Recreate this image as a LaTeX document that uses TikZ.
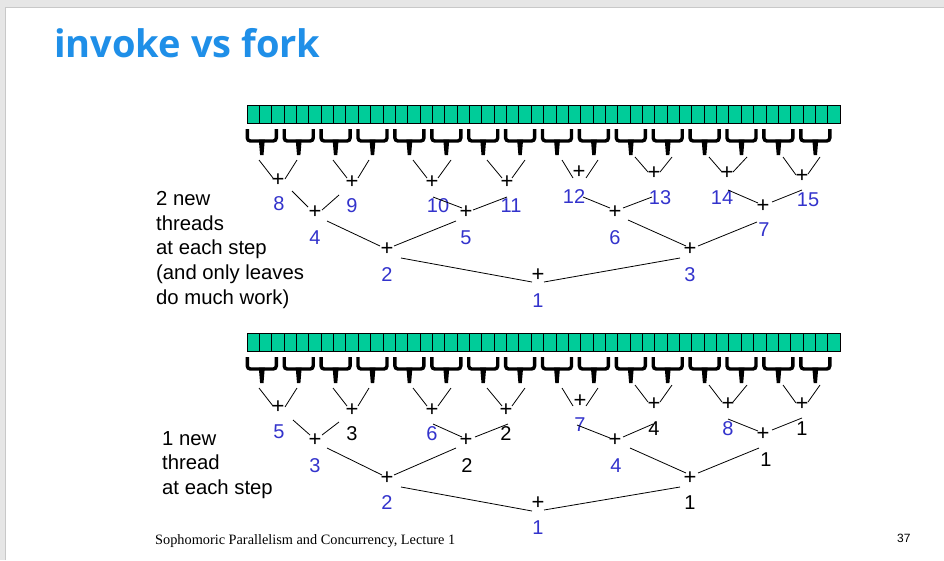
\documentclass[tikz,border=0pt]{standalone}
\usepackage{fontspec}
\setmainfont{Liberation Sans}
\newfontfamily\titlefont{Open Sans}
\newfontfamily\footfont{Liberation Serif}
\definecolor{titleblue}{RGB}{31,143,232}
\definecolor{lblblue}{RGB}{51,51,204}
\definecolor{cellgreen}{RGB}{0,204,153}
\definecolor{framegray}{RGB}{230,230,230}
\definecolor{edgegray}{RGB}{200,200,200}
\tikzset{
  plus/.style={inner sep=0pt, font=\fontsize{22}{22}\selectfont},
  lbl/.style={inner sep=0pt, text=lblblue, font=\fontsize{20}{20}\selectfont},
  blk/.style={inner sep=0pt, text=black, font=\fontsize{20}{20}\selectfont},
  conn/.style={draw=black, line width=0.8pt},
  bracearm/.style={draw=black, line width=3.4pt, rounded corners=3pt},
  sidetext/.style={inner sep=0pt, anchor=north west, align=left, font=\fontsize{20.3}{24.7}\selectfont},
}
\begin{document}
\begin{tikzpicture}[x=1pt,y=-1pt]
\useasboundingbox (0,0) rectangle (944,560);
\fill[framegray] (0,0) rectangle (944,560);
\fill[white] (5,7) rectangle (944,560);
\draw[edgegray, line width=0.6pt] (5.3,560) -- (5.3,7.3) -- (944,7.3);

\node[anchor=base west, inner sep=0pt, text=titleblue,
      font=\titlefont\bfseries\fontsize{38}{38}\selectfont] (title) at (54,57) {invoke vs fork};

% ---------- arrays and braces ----------
\foreach \yo/\nm in {0/a, 228/b}{
  \fill[cellgreen] (247,105+\yo) rectangle (840,123+\yo);
  \foreach \i in {1,...,47}{
    \draw[black, line width=0.7pt] ({247+\i*12.354},105+\yo) -- ({247+\i*12.354},123+\yo);
  }
  \draw[black, line width=0.9pt] (247,105+\yo) rectangle (840,123+\yo);
  \foreach \i in {0,...,15}{
    \pgfmathsetmacro{\c}{261.8+36.9*\i}
    \draw[bracearm] (\c-14.5,129+\yo) -- (\c-14.5,141+\yo) -- (\c+14.5,141+\yo) -- (\c+14.5,129+\yo);
    \fill[black] (\c-3,139.5+\yo) -- (\c+3,139.5+\yo) -- (\c+1.7,155+\yo) -- (\c-1.7,155+\yo) -- cycle;
    \coordinate (stem\nm\i) at (\c,155+\yo);
  }
}

% ---------- top tree: plus nodes ----------
\foreach \n/\x/\y in {1/538/275, 2/387/249, 3/690/249, 4/315/212, 5/466/212, 6/615/212, 7/763/206,
  8/278/180, 9/352/182, 10/432/182, 11/507/182, 12/579/172, 13/654/173, 14/727/173, 15/802/176}{
  \node[plus] (tp\n) at (\x,\y) {+};
}
% top labels
\foreach \n/\x/\y in {1/538/301, 2/387/275, 3/690/275, 4/315/238, 5/466/238, 6/615/238, 7/764/230,
  8/279/204, 9/352/206, 10/438/206, 11/511/206, 12/574/197, 13/660/198, 14/722/198, 15/808/200}{
  \node[lbl] (tl\n) at (\x,\y) {\n};
}

% ---------- bottom tree: plus nodes ----------
\foreach \n/\x/\y in {1/538/503, 2/387/478, 3/690/478, 4/315/440, 5/466/440, 6/615/440, 7/763/434,
  8/278/407, 9/352/410, 10/432/410, 11/506/410, 12/580/401, 13/654/404, 14/728/404, 15/802/404}{
  \node[plus] (bp\n) at (\x,\y) {+};
}
% bottom labels
\node[lbl] (bl1) at (538,528) {1};
\node[lbl] (bl2) at (387,503) {2};
\node[blk] (bl3) at (690,503) {1};
\node[lbl] (bl4) at (315,466) {3};
\node[blk] (bl5) at (467,466) {2};
\node[lbl] (bl6) at (616,466) {4};
\node[blk] (bl7) at (766,460) {1};
\node[lbl] (bl8) at (279,432) {5};
\node[blk] (bl9) at (352,434) {3};
\node[lbl] (bl10) at (432,434) {6};
\node[blk] (bl11) at (506,434) {2};
\node[lbl] (bl12) at (580,425) {7};
\node[blk] (bl13) at (654,429) {4};
\node[lbl] (bl14) at (728,429) {8};
\node[blk] (bl15) at (802,429) {1};

% ---------- connectors (top) ----------
\foreach \k/\xa/\ya/\xb/\yb in {
  1/259/160/273/178, 2/297/160/285/179, 3/333/160/347/178, 4/369/160/358/178,
  5/413/160/427/178, 6/451/160/438/178, 7/487/160/502/178, 8/525/160/512/178,
  9/562/160/573/178, 10/598/160/586/178, 11/635/157/648/172, 12/672/157/660/172,
  13/709/157/722/172, 14/747/157/733/172, 15/783/157/796/175, 16/820/157/808/174,
  17/292/191/308/207, 18/339/195/322/210, 19/433/197/462/208, 20/507/197/473/210,
  21/583/197/610/208, 22/652/197/623/208, 23/728/190/758/203, 24/802/190/772/202,
  25/327/221/380/246, 26/394/246/456/221, 27/628/220/686/246, 28/698/246/757/222,
  29/401/258/532/282, 30/544/282/680/258}{
  \coordinate (ts\k) at (\xa,\ya);
  \coordinate (te\k) at (\xb,\yb);
  \draw[conn] (ts\k) -- (te\k);
}
% ---------- connectors (bottom) ----------
\foreach \k/\xa/\ya/\xb/\yb in {
  1/259/388/273/406, 2/297/388/285/407, 3/333/388/347/406, 4/369/388/358/406,
  5/413/388/427/406, 6/451/388/438/406, 7/487/388/502/406, 8/525/388/512/406,
  9/562/388/573/406, 10/598/388/586/406, 11/635/385/648/402, 12/672/385/660/402,
  13/709/385/722/402, 14/747/385/733/402, 15/783/385/796/403, 16/820/385/808/402,
  17/293/420/310/435, 18/339/422/322/435, 19/433/424/462/437, 20/508/424/475/437,
  21/577/425/610/438, 22/653/424/623/437, 23/728/419/758/431, 24/802/418/772/430,
  25/327/448/382/475, 26/394/475/456/448, 27/630/448/686/473, 28/698/473/759/448,
  29/401/487/532/511, 30/544/510/680/487}{
  \coordinate (bs\k) at (\xa,\ya);
  \coordinate (be\k) at (\xb,\yb);
  \draw[conn] (bs\k) -- (be\k);
}

% ---------- side texts ----------
\node[sidetext] (txt1) at (156,191) {2 new\\threads\\at each step\\(and only leaves\\do much work)};
\node[sidetext] (txt2) at (162,431) {1 new\\thread\\at each step};

% ---------- footer ----------
\node[anchor=base west, inner sep=0pt, font=\footfont\fontsize{14.3}{14.3}\selectfont] (foot) at (155,544)
  {Sophomoric Parallelism and Concurrency, Lecture 1};
\node[anchor=base west, inner sep=0pt, font=\fontsize{12}{12}\selectfont] (pg) at (897,542) {37};
\end{tikzpicture}
\end{document}
